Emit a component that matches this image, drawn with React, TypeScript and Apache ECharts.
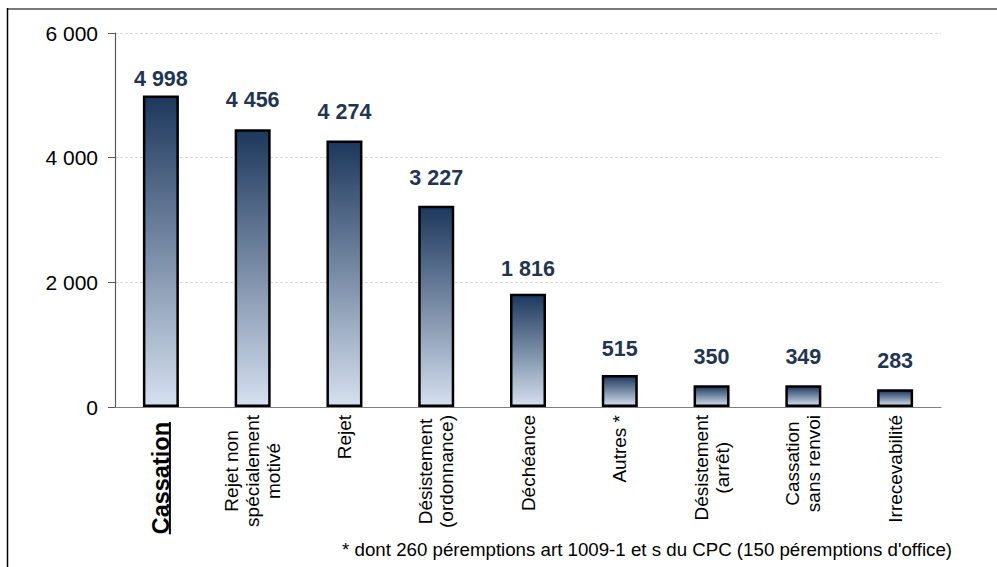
import React, { useEffect, useRef } from "react";
import * as echarts from "echarts";

const categories = [
  "Cassation",
  "Rejet non\nspécialement\nmotivé",
  "Rejet",
  "Désistement\n(ordonnance)",
  "Déchéance",
  "Autres *",
  "Désistement\n(arrêt)",
  "Cassation\nsans renvoi",
  "Irrecevabilité",
];
const values = [4998, 4456, 4274, 3227, 1816, 515, 350, 349, 283];
const labelDistances = [5, 18, 18, 17, 14, 15, 17, 17, 17];
const yMax = 6000;
const yStep = 2000;
const footnote =
  "* dont 260 péremptions art 1009-1 et s du CPC (150 péremptions d'office)";

const FONT = '"Liberation Sans", Arial, sans-serif';

const fmt = (n: number) => String(n).replace(/\B(?=(\d{3})+(?!\d))/g, " ");

export default function App() {
  const ref = useRef<HTMLDivElement>(null);
  useEffect(() => {
    if (!ref.current) return;
    const chart = echarts.init(ref.current, null, { renderer: "svg" });
    const option: any = {
      animation: false,
      backgroundColor: "#ffffff",
      grid: { left: 115, right: 56, top: 33, bottom: 160, containLabel: false },
      xAxis: {
        type: "category",
        data: categories,
        axisLine: { lineStyle: { color: "#808080", width: 1.2 } },
        axisTick: { inside: true, length: 5, lineStyle: { color: "#808080" } },
        axisLabel: {
          interval: 0,
          rotate: 90,
          margin: 8,
          color: "#000",
          fontFamily: FONT,
          fontSize: 19,
          formatter: (v: string) =>
            v
              .split("\n")
              .map((l) => (v === "Cassation" ? `{b|${l}}` : `{c|${l}}`))
              .join("\n"),
          rich: {
            c: { align: "center", fontSize: 19, lineHeight: 21, fontFamily: FONT, color: "#000" },
            b: {
              align: "center",
              fontSize: 23.5,
              lineHeight: 26,
              fontWeight: "bold",
              fontFamily: FONT,
              color: "#000",
              padding: [0, 7, 0, 0],
            },
          },
        },
      },
      yAxis: {
        type: "value",
        min: 0,
        max: yMax,
        interval: yStep,
        axisLine: { show: true, lineStyle: { color: "#595959", width: 1.2 } },
        axisTick: { show: true, length: 7, lineStyle: { color: "#595959" } },
        axisLabel: {
          margin: 17,
          color: "#000",
          fontFamily: FONT,
          fontSize: 21,
          formatter: (v: number) => fmt(v),
        },
        splitLine: { lineStyle: { color: "#d9d9d9", type: [3, 2], width: 1 } },
      },
      series: [
        {
          type: "bar",
          barWidth: 36,
          data: values.map((v, i) => ({
            value: v,
            label: { distance: labelDistances[i] },
          })),
          itemStyle: {
            borderColor: "#000",
            borderWidth: 2.5,
            color: new echarts.graphic.LinearGradient(0, 0, 0, 1, [
              { offset: 0, color: "#1d385d" },
              { offset: 1, color: "#d5e0ef" },
            ]),
          },
          label: {
            show: true,
            position: "top",
            color: "#1f3552",
            fontFamily: FONT,
            fontWeight: "bold",
            fontSize: 21.5,
            formatter: (p: any) => fmt(p.value),
          },
        },
      ],
      graphic: [
        { id: "frameTop", type: "line", shape: { x1: 7, y1: 9, x2: 997, y2: 9 }, style: { stroke: "#7a7a7a", lineWidth: 2 } },
        { id: "frameLeft", type: "line", shape: { x1: 7.5, y1: 8, x2: 7.5, y2: 567 }, style: { stroke: "#000", lineWidth: 1.5 } },
        {
          id: "foot",
          type: "text",
          right: 45,
          top: 540,
          style: { text: footnote, fontFamily: FONT, fontSize: 18.7, fill: "#000" },
        },
      ],
    };
    chart.setOption(option);

    const x = chart.convertToPixel({ xAxisIndex: 0 }, categories[0]) as number;
    const y0 = chart.convertToPixel({ yAxisIndex: 0 }, 0) as number;
    const canvas = document.createElement("canvas");
    const ctx = canvas.getContext("2d");
    let w = 111;
    if (ctx) {
      ctx.font = `bold 23.5px ${FONT}`;
      w = ctx.measureText(categories[0]).width;
    }
    chart.setOption({
      graphic: [
        {
          id: "underline",
          type: "line",
          shape: { x1: x + 9, y1: y0 + 15, x2: x + 9, y2: y0 + 15 + w },
          style: { stroke: "#000", lineWidth: 2 },
        },
      ],
    });

    return () => chart.dispose();
  }, []);
  return (
    <div
      ref={ref}
      style={{ position: "absolute", left: 0, top: 0, width: 997, height: 567 }}
    />
  );
}
